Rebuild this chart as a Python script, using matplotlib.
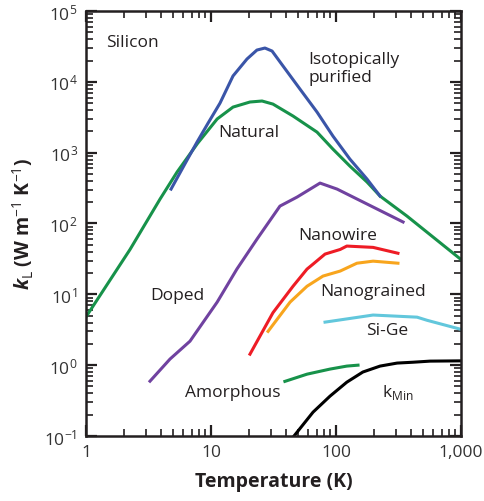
import numpy as np
import matplotlib
matplotlib.use('Agg')
import matplotlib.pyplot as plt
from matplotlib.ticker import FixedLocator, LogLocator, NullFormatter

plt.rcParams['font.family'] = ['Open Sans', 'DejaVu Sans']
plt.rcParams['mathtext.fontset'] = 'custom'
plt.rcParams['mathtext.rm'] = 'Open Sans'
plt.rcParams['mathtext.it'] = 'Open Sans:italic:bold'
plt.rcParams['mathtext.bf'] = 'Open Sans:bold'

TXT = '#231f20'

# values (T in K, k in W m^-1 K^-1)
iso_T = [4.79, 6.2, 7.73, 9.46, 11.8, 15.0, 19.4, 23.3, 27.0, 30.8, 37.7, 51.5, 70.5, 94.6, 129, 177, 225]
iso_k = [306, 700, 1410, 2600, 5000, 12100, 21000, 28100, 30000, 27200, 16700, 7900, 3740, 1710, 813, 424, 244]

nat_T = [1, 2.25, 3.91, 5.35, 7.8, 11.2, 15.0, 20.5, 25.6, 31.3, 45.3, 70.5, 94.6, 129, 177, 225, 370, 1000]
nat_k = [4.8, 43, 221, 532, 1350, 2990, 4400, 5190, 5360, 4850, 3290, 1950, 1120, 647, 385, 244, 127, 31]

dop_T = [3.25, 4.70, 6.79, 11.2, 16.1, 23.3, 35.6, 48.8, 74.5, 102, 344]
dop_k = [0.594, 1.22, 2.18, 7.76, 22.7, 60, 176, 236, 372, 306, 105]

nw_T = [20.5, 31.3, 45.3, 58.6, 65.5, 81.7, 108, 122, 198, 313]
nw_k = [1.43, 5.5, 13, 22.7, 26.7, 37, 43, 48, 46, 38]

ng_T = [28.6, 42.9, 58.6, 78.7, 108, 147, 198, 313]
ng_k = [3.0, 7.76, 13, 18.1, 21.3, 27.5, 29.4, 27.5]

sige_T = [81.7, 198, 445, 535, 1000]
sige_k = [4.05, 5.1, 4.76, 4.3, 3.2]

am_T = [39, 58.6, 89.5, 122, 150]
am_k = [0.59, 0.746, 0.88, 0.97, 1.0]

kmin_T = [43, 45.3, 65.5, 89.5, 122, 164, 225, 308, 413, 565, 1000]
kmin_k = [0.085, 0.096, 0.217, 0.365, 0.575, 0.80, 0.97, 1.07, 1.10, 1.14, 1.15]

x_ticks = [1, 10, 100, 1000]
x_labels = ['1', '10', '100', '1,000']
y_ticks = [1e-1, 1e0, 1e1, 1e2, 1e3, 1e4, 1e5]
y_labels = [r'$\mathregular{10^{%d}}$' % e for e in range(-1, 6)]

fig = plt.figure(figsize=(4.84, 5.02), dpi=100)
ax = fig.add_axes([0.1777, 0.1295, 0.7748, 0.8466])

lw = 2.2
ax.plot(nat_T, nat_k, color='#17924a', lw=lw)
ax.plot(iso_T, iso_k, color='#3a55a8', lw=lw)
ax.plot(dop_T, dop_k, color='#7042a0', lw=lw)
ax.plot(nw_T, nw_k, color='#ee1c25', lw=lw)
ax.plot(ng_T, ng_k, color='#f8a51d', lw=lw)
ax.plot(sige_T, sige_k, color='#62c7dc', lw=lw)
ax.plot(am_T, am_k, color='#17924a', lw=lw)
ax.plot(kmin_T, kmin_k, color='black', lw=lw)

ax.set_xscale('log')
ax.set_yscale('log')
ax.set_xlim(1, 1000)
ax.set_ylim(1e-1, 1e5)

ax.xaxis.set_major_locator(FixedLocator(x_ticks))
ax.set_xticklabels(x_labels)
ax.yaxis.set_major_locator(FixedLocator(y_ticks))
ax.set_yticklabels(y_labels)
ax.xaxis.set_minor_locator(LogLocator(base=10, subs=np.arange(2, 10), numticks=20))
ax.yaxis.set_minor_locator(LogLocator(base=10, subs=np.arange(2, 10), numticks=20))
ax.xaxis.set_minor_formatter(NullFormatter())
ax.yaxis.set_minor_formatter(NullFormatter())

for s in ax.spines.values():
    s.set_linewidth(1.8)
    s.set_color(TXT)
# inward ticks on all four sides
ax.tick_params(which='both', direction='in', top=True, right=True, color=TXT,
               labelsize=12.5, labelcolor='#333333')
ax.tick_params(which='major', length=8, width=1.6, pad=6)
ax.tick_params(which='minor', length=5, width=1.2)

ax.set_xlabel('Temperature (K)', fontsize=14, fontweight='bold', color=TXT, labelpad=8)
ax.set_ylabel(r'$k_{\rm L}$ (W m$^{-1}$ K$^{-1}$)', fontsize=14, fontweight='bold',
              color=TXT, labelpad=6)

fs = 12.5
ax.text(1.445, 36000, 'Silicon', fontsize=fs, color=TXT, va='center')
ax.text(59.7, 15700, 'Isotopically\npurified', fontsize=fs, color=TXT, va='center',
        linespacing=1.15)
ax.text(11.4, 1950, 'Natural', fontsize=fs, color=TXT, va='center')
ax.text(49.7, 68.6, 'Nanowire', fontsize=fs, color=TXT, va='center')
ax.text(3.25, 9.75, 'Doped', fontsize=fs, color=TXT, va='center')
ax.text(74.5, 11.1, 'Nanograined', fontsize=fs, color=TXT, va='center')
ax.text(174, 3.12, 'Si-Ge', fontsize=fs, color=TXT, va='center')
ax.text(6.2, 0.416, 'Amorphous', fontsize=fs, color=TXT, va='center')
ax.text(233, 0.43, r'k$_{\mathregular{Min}}$', fontsize=fs, color=TXT, va='center')

fig.savefig('out.png', dpi=100)
